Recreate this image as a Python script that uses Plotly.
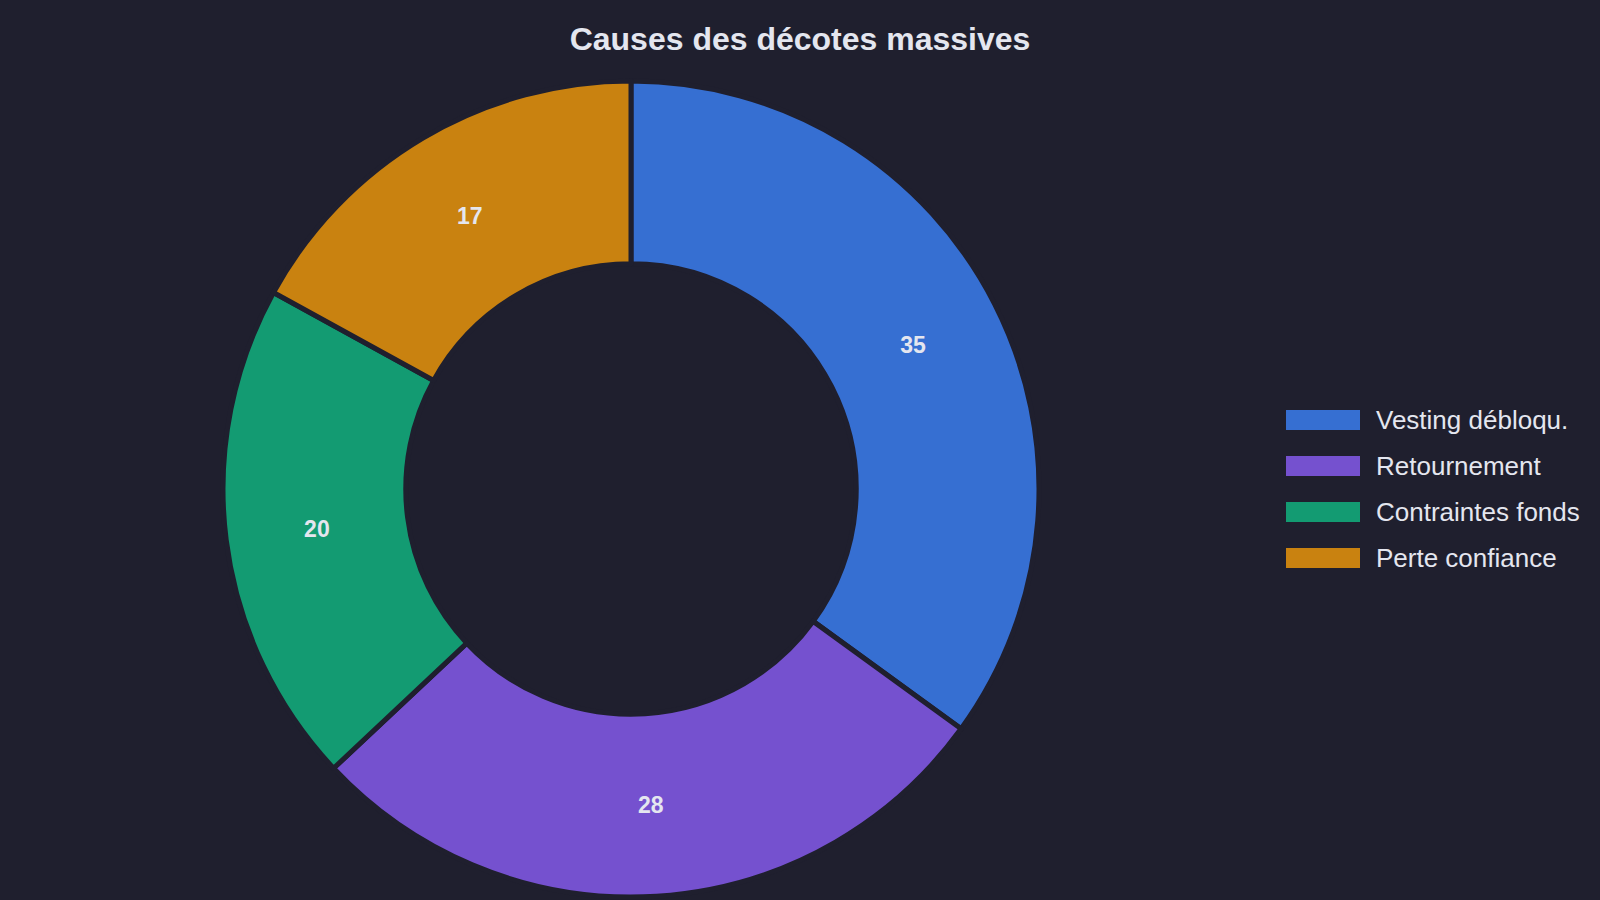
import plotly.graph_objects as go

labels = ["Vesting débloqu.", "Retournement", "Contraintes fonds", "Perte confiance"]
values = [35, 28, 20, 17]
colors = ["#366fd2", "#7551cf", "#139b72", "#c98210"]
title_text = "Causes des décotes massives"

BG = "#1f1f2e"
TXT = "#e4e6ef"
FONT = "Liberation Sans, Arial, sans-serif"
W, H = 1600, 900

fig = go.Figure()
fig.add_trace(go.Pie(
    labels=labels,
    values=values,
    hole=0.552,
    sort=False,
    direction="clockwise",
    rotation=0,
    marker=dict(colors=colors, line=dict(color=BG, width=5)),
    textinfo="value",
    textposition="inside",
    insidetextorientation="horizontal",
    textfont=dict(family=FONT, size=23, color=TXT, weight="bold"),
    domain=dict(x=[223 / W, 1039 / W], y=[1 - 897 / H, 1 - 81 / H]),
    showlegend=False,
    hoverinfo="label+value+percent",
))

# custom legend (wide swatches)
shapes = []
annotations = []
row_y = [420, 466, 512, 558]
for lab, col, yc in zip(labels, colors, row_y):
    shapes.append(dict(type="rect", xref="paper", yref="paper",
                       x0=1286 / W, x1=1360 / W,
                       y0=1 - (yc + 10) / H, y1=1 - (yc - 10) / H,
                       fillcolor=col, line=dict(width=0)))
    annotations.append(dict(xref="paper", yref="paper", x=1374 / W, y=1 - yc / H,
                            xanchor="left", yanchor="middle", showarrow=False,
                            text=lab, font=dict(family=FONT, size=26, color=TXT)))

fig.update_layout(
    width=W, height=H,
    paper_bgcolor=BG, plot_bgcolor=BG,
    margin=dict(l=0, r=0, t=0, b=0),
    title=dict(text=title_text, x=0.5, xanchor="center", xref="paper",
               y=1 - 39 / H, yref="container", yanchor="middle",
               font=dict(family=FONT, size=32, color=TXT, weight="bold")),
    shapes=shapes,
    annotations=annotations,
    showlegend=False,
)

fig.write_html(
    "out.html",
    config={"displayModeBar": False},
    post_script="document.body.style.margin='0';document.body.style.background='#1f1f2e';document.body.style.overflow='hidden';",
)
